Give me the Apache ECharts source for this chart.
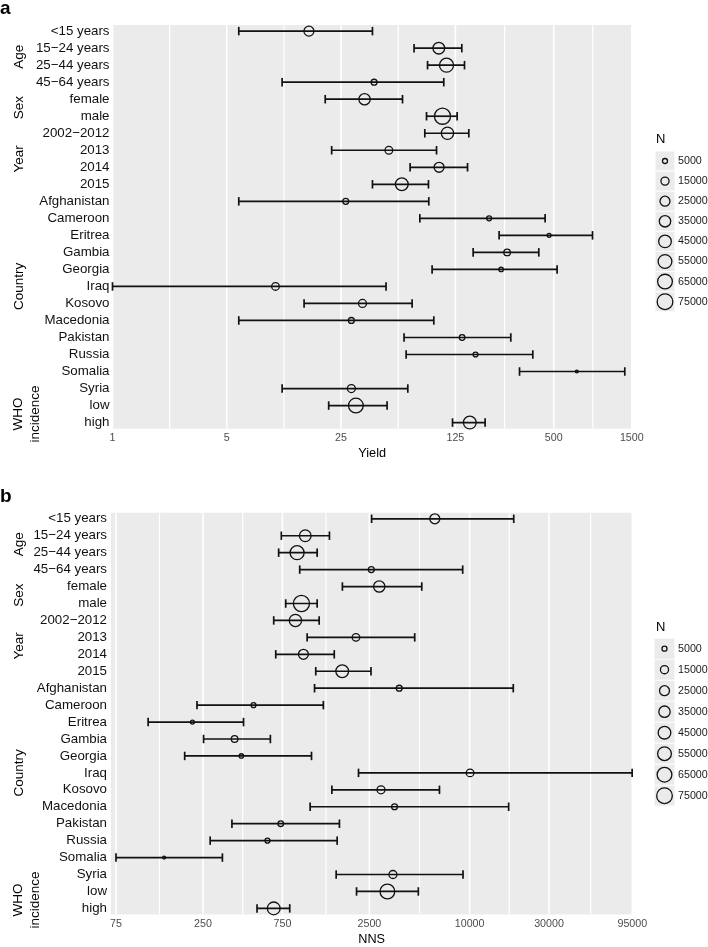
<!DOCTYPE html>
<html><head><meta charset="utf-8">
<script src="https://cdn.jsdelivr.net/npm/echarts@6/dist/echarts.min.js"></script>
<style>html,body{margin:0;padding:0;background:#fff}#c{width:708px;height:947px}</style>
</head><body><div id="c"></div>
<script>
// ---------- data ----------
const categories = ['<15 years','15\u221224 years','25\u221244 years','45\u221264 years','female','male',
  '2002\u22122012','2013','2014','2015','Afghanistan','Cameroon','Eritrea','Gambia','Georgia','Iraq',
  'Kosovo','Macedonia','Pakistan','Russia','Somalia','Syria','low','high'];
const groupLabels = ['Age','Sex','Year','Country','WHO\nincidence'];
const groupRowCenters = [1.5, 4.5, 7.5, 15, 22.5];
const sampleN = [25000,37000,58000,7000,34000,80000,42000,13000,25000,46000,
  7000,4800,3500,9000,4000,13000,14500,7000,6300,4800,3000,14500,65000,46000];

const yieldEst = [15.9,99.0,110.4,39.8,34.8,104.3,111.9,49.0,99.4,58.8,26.7,201.1,468.1,259.1,238.2,9.93,33.8,28.9,137.5,166.1,691.5,28.9,30.8,153.2];
const yieldLo  = [5.92,69.9,84.5,10.9,20.0,83.3,81.3,21.9,66.1,38.9,5.92,75.8,231.5,160.6,90.1,1.0,14.85,5.92,60.7,62.5,308.6,10.9,21.0,120.1];
const yieldHi  = [38.9,136.9,142.2,106.2,59.4,128.2,151.1,95.9,148.4,85.6,86.0,442.5,862.7,404.8,524.0,47.1,68.0,92.3,272.9,372.1,1359,64.0,47.8,190.1];

const nnsEst = [6180,1029,919,2566,2864,976,898,2075,1003,1716,3776,503,216,387,425,10063,2935,3540,733,610,146,3462,3206,665];
const nnsLo  = [2577,739,712,953,1720,785,665,1056,684,1190,1170,230,117,252,194,2150,1487,1101,373,276,75,1578,2092,528];
const nnsHi  = [18420,1438,1213,9088,5159,1213,1247,4679,1537,2555,18300,1322,438,635,1122,94800,6590,17170,1651,1600,327,9130,4920,830];

const yieldTicks = [1,5,25,125,500,1500];
const nnsTicks = [75,250,750,2500,10000,30000,95000];
const legendBreaks = [5000,15000,25000,35000,45000,55000,65000,75000];

// ---------- helpers ----------
const FONT = "'Liberation Sans', Arial, Helvetica, sans-serif";
const L = Math.log10;
function sizeOf(n){ return 4.2 + 13.2*Math.sqrt(Math.max(0,n-3000)/77000) - 1.3; }
function minorOf(t){ const m=[]; for(let i=0;i<t.length-1;i++) m.push((L(t[i])+L(t[i+1]))/2); return m; }
const YMIN=-0.36, YMAX=categories.length-1+0.36;

function gridLines(gi, ticks){
  return {type:'custom', xAxisIndex:gi, yAxisIndex:gi, silent:true, z:1,
    data: ticks.map(t=>[L(t),1]).concat(minorOf(ticks).map(v=>[v,0])),
    renderItem:(params, api)=>{
      const cs = params.coordSys;
      const x = api.coord([api.value(0), 0])[0];
      return {type:'line', shape:{x1:x,y1:cs.y,x2:x,y2:cs.y+cs.height},
        style:{stroke:'#ffffff', lineWidth: api.value(1)?1.6:1.2}};
    }};
}
function errBars(gi, est, lo, hi){
  return {type:'custom', xAxisIndex:gi, yAxisIndex:gi, silent:true, z:2, clip:false,
    encode:{x:[0,2,3], y:1},
    data: categories.map((c,i)=>[L(est[i]), i, L(lo[i]), L(hi[i])]),
    renderItem:(params, api)=>{
      const y = api.value(1);
      const a = api.coord([api.value(2), y]), b = api.coord([api.value(3), y]);
      const h = api.size([0,1])[1]*0.25;
      const st = {stroke:'#111', lineWidth:1.7};
      return {type:'group', children:[
        {type:'line', shape:{x1:a[0],y1:a[1],x2:b[0],y2:b[1]}, style:st},
        {type:'line', shape:{x1:a[0],y1:a[1]-h,x2:a[0],y2:a[1]+h}, style:st},
        {type:'line', shape:{x1:b[0],y1:b[1]-h,x2:b[0],y2:b[1]+h}, style:st}
      ]};
    }};
}
function points(gi, est){
  return {type:'scatter', xAxisIndex:gi, yAxisIndex:gi, silent:true, z:3,
    data: categories.map((c,i)=>[L(est[i]), i, sampleN[i]]),
    symbol:'circle', symbolSize:v=>sizeOf(v[2]),
    itemStyle:{color:'rgba(0,0,0,0)', borderColor:'#111', borderWidth:1.3, opacity:1},
    emphasis:{disabled:true}};
}
function xAxis(gi, ticks, min, max, name){
  return {gridIndex:gi, type:'value', min:min, max:max,
    axisLabel:{customValues: ticks.map(L), formatter:v=>String(Math.round(Math.pow(10,v))),
      fontSize:10.7, color:'#4d4d4d', margin:4, fontFamily:FONT, showMinLabel:true, showMaxLabel:true},
    axisTick:{show:false}, axisLine:{show:false}, splitLine:{show:false},
    name:name, nameLocation:'middle', nameGap:18.5,
    nameTextStyle:{fontSize:12.7, color:'#000', fontFamily:FONT}};
}
function yAxis(gi, margin){
  return {gridIndex:gi, type:'value', inverse:true, min:YMIN, max:YMAX,
    axisLabel:{customValues: categories.map((c,i)=>i), formatter:v=>categories[Math.round(v)],
      fontSize:13.3, color:'#111', margin:margin, fontFamily:FONT},
    axisTick:{show:false}, axisLine:{show:false}, splitLine:{show:false}};
}

const chart = echarts.init(document.getElementById('c'), null, {renderer:'canvas'});
chart.setOption({
  animation:false,
  grid:[
    {left:112.5, top:25, width:519.3, height:403.7, show:true, backgroundColor:'#ebebeb', borderWidth:0},
    {left:111, top:512.7, width:521.3, height:404, show:true, backgroundColor:'#ebebeb', borderWidth:0}
  ],
  xAxis:[ xAxis(0, yieldTicks, 0, L(1500), 'Yield'),
          xAxis(1, nnsTicks, L(75)-5/166.4, L(95000), 'NNS') ],
  yAxis:[ yAxis(0,3), yAxis(1,4) ],
  series:[
    gridLines(0, yieldTicks), errBars(0, yieldEst, yieldLo, yieldHi), points(0, yieldEst),
    gridLines(1, nnsTicks), errBars(1, nnsEst, nnsLo, nnsHi), points(1, nnsEst)
  ]
});

// ---------- annotations: panel letters, group labels, size legends ----------
const gfx = [];
gfx.push({type:'text', x:0, y:8.4, style:{text:'a', font:"bold 19px "+FONT, fill:'#000', verticalAlign:'middle'}});
gfx.push({type:'text', x:0, y:496.4, style:{text:'b', font:"bold 19px "+FONT, fill:'#000', verticalAlign:'middle'}});
[0,1].forEach(gi=>{
  groupLabels.forEach((lab,k)=>{
    const p = chart.convertToPixel({gridIndex:gi}, [2, groupRowCenters[k]]);
    const two = lab.indexOf('\n')>=0;
    gfx.push({type:'text', x: two?27:19.5, y:p[1], rotation:Math.PI/2,
      style:{text:lab, font:"13.5px "+FONT, fill:'#000', align:'center', verticalAlign:'middle', lineHeight:17}});
  });
});
const legendSpecs = [
  {titleY:139, y0:161, step:20.1, boxX:655.5, box:19},
  {titleY:627, y0:648.7, step:21, boxX:654.5, box:20}
];
legendSpecs.forEach(s=>{
  gfx.push({type:'text', x:656, y:s.titleY, style:{text:'N', font:"13px "+FONT, fill:'#000', verticalAlign:'middle'}});
  legendBreaks.forEach((n,k)=>{
    const yc = s.y0 + k*s.step;
    gfx.push({type:'rect', shape:{x:s.boxX, y:yc-s.box/2, width:s.box, height:s.box}, style:{fill:'#ebebeb'}});
    const r = sizeOf(n)/2;
    gfx.push({type:'circle', shape:{cx:s.boxX+s.box/2, cy:yc, r:r}, style:{fill:'none', stroke:'#111', lineWidth:1.3}});
    gfx.push({type:'text', x:678, y:yc, style:{text:String(n), font:"10.7px "+FONT, fill:'#1a1a1a', verticalAlign:'middle'}});
  });
});
chart.setOption({graphic:gfx});
</script></body></html>
